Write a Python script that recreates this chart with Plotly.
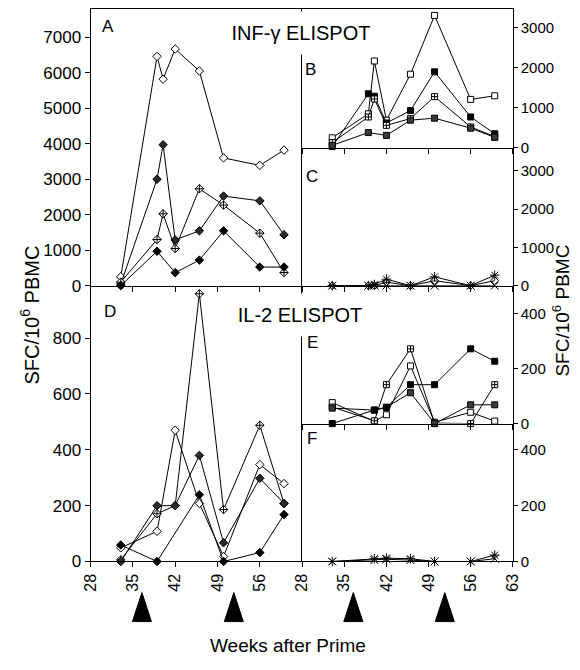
import plotly.graph_objects as go

# ---------------- data ----------------
weeks_ifn = [33, 39, 40, 42, 46, 50, 56, 60]
A_open = [250, 6460, 5820, 6670, 6050, 3600, 3390, 3820]
A_half = [50, 3000, 3970, 1290, 1545, 2525, 2390, 1435]
A_cross = [100, 1300, 2025, 1045, 2730, 2270, 1480, 370]
A_filled = [0, 970, None, 365, 720, 1545, 525, 525]

B_open = [250, 850, 2170, 690, 1840, 3310, 1210, 1300]
B_filled = [30, 1350, 1290, 620, 930, 1900, 770, 350]
B_cross = [130, 770, 1220, 560, 730, 1280, 520, 280]
B_half = [60, 380, None, 310, 690, 740, 490, 260]

C_ast = [0, 0, 30, 170, 0, 230, 0, 275]
C_circ = [0, 0, 0, 90, 0, 130, 0, 130]
C_x = [0, 0, 0, 0, 0, 0, 0, 0]

weeks_D = [33, 39, 42, 46, 50, 56, 60]
D_open = [49, 108, 470, 208, 18, 347, 279]
D_cross = [6, 171, 200, 959, 186, 488, 208]
D_half = [0, 200, 200, 380, 67, 298, 208]
D_filled = [59, 0, None, 239, 0, 32, 168]

weeks_E = [33, 40, 42, 46, 50, 56, 60]
E_filled = [0, 49, 59, 141, 141, 271, 226]
E_cross = [60, 10, 141, 271, 2, 0, 141]
E_open = [76, 8, 32, 209, 5, 41, 9]
E_half = [56, 49, 59, 112, 0, 68, 68]

F_ast = [0, 10, 12, 10, 0, 0, 23]
F_x = [0, 5, 8, 5, 0, 0, 10]

boost_weeks = [36.5, 51.7]

ticks_left = [28, 35, 42, 49, 56]
ticks_right = [28, 35, 42, 49, 56, 63]

W, H = 580, 670
FONT = "Liberation Sans, Arial, sans-serif"

def px(x):
    return x / W

def py(y):
    return 1 - y / H

fig = go.Figure()

def add(xs, ys, ax, symbol, fill, size):
    xa, ya = ax
    fig.add_trace(go.Scatter(
        x=xs, y=ys, xaxis=xa, yaxis=ya, mode="lines+markers",
        line=dict(color="black", width=1),
        marker=dict(symbol=symbol, color=fill, size=size,
                    line=dict(color="black", width=1)),
        connectgaps=True, cliponaxis=False, showlegend=False))

AX_A = ("x", "y")
AX_B = ("x2", "y2")
AX_C = ("x3", "y3")
AX_D = ("x4", "y4")
AX_E = ("x5", "y5")
AX_F = ("x6", "y6")

# panel A
add(weeks_ifn, A_open, AX_A, "diamond", "white", 6.5)
add(weeks_ifn, A_half, AX_A, "diamond", "#2a2a2a", 6.5)
add(weeks_ifn, A_cross, AX_A, "diamond-cross", "white", 6.5)
add(weeks_ifn, A_filled, AX_A, "diamond", "black", 6.5)
# panel B
add(weeks_ifn, B_open, AX_B, "square", "white", 6)
add(weeks_ifn, B_filled, AX_B, "square", "black", 6)
add(weeks_ifn, B_cross, AX_B, "square-cross", "white", 6)
add(weeks_ifn, B_half, AX_B, "square", "#3a3a3a", 6)
# panel C
add(weeks_ifn, C_circ, AX_C, "diamond-open", "black", 6)
add(weeks_ifn, C_x, AX_C, "x-thin-open", "black", 8)
add(weeks_ifn, C_ast, AX_C, "asterisk-open", "black", 8)
# panel D
add(weeks_D, D_open, AX_D, "diamond", "white", 6.5)
add(weeks_D, D_cross, AX_D, "diamond-cross", "white", 6.5)
add(weeks_D, D_half, AX_D, "diamond", "#2a2a2a", 6.5)
add(weeks_D, D_filled, AX_D, "diamond", "black", 6.5)
# panel E
add(weeks_E, E_open, AX_E, "square", "white", 6)
add(weeks_E, E_cross, AX_E, "square-cross", "white", 6)
add(weeks_E, E_half, AX_E, "square", "#3a3a3a", 6)
add(weeks_E, E_filled, AX_E, "square", "black", 6)
# panel F
add(weeks_E, F_x, AX_F, "x-thin-open", "black", 8)
add(weeks_E, F_ast, AX_F, "asterisk-open", "black", 8)

xl = [px(84), px(302)]
xr = [px(302), px(519)]

def xaxis(domain, anchor, tickvals, labels, mirror=False):
    return dict(domain=domain, anchor=anchor, range=[28, 63], tickvals=tickvals,
                showticklabels=labels, tickangle=-90,
                showline=True, linecolor="black", linewidth=1, mirror=mirror,
                ticks="outside", ticklen=5, tickwidth=1, tickcolor="black",
                showgrid=False, zeroline=False,
                tickfont=dict(size=16, color="black", family=FONT))

def yaxis(domain, anchor, rng, tickvals, side):
    return dict(domain=domain, anchor=anchor, range=rng, tickvals=tickvals,
                side=side, mirror=(side == "right"),
                showline=True, linecolor="black", linewidth=1,
                ticks="outside", ticklen=5 if side == "left" else 4,
                tickwidth=1, tickcolor="black",
                showgrid=False, zeroline=False,
                tickfont=dict(size=17 if side == "left" else 15, color="black", family=FONT))

layout = dict(
    width=W, height=H, margin=dict(l=0, r=0, t=0, b=0),
    plot_bgcolor="white", paper_bgcolor="white",
    font=dict(family=FONT, color="black"),
    xaxis=xaxis(xl, "y", ticks_left, False, mirror=True),
    xaxis2=xaxis(xr, "y2", ticks_right, False, mirror=True),
    xaxis3=xaxis(xr, "y3", ticks_right, False),
    xaxis4=xaxis(xl, "y4", ticks_left, True),
    xaxis5=xaxis(xr, "y5", ticks_right, False),
    xaxis6=xaxis(xr, "y6", ticks_right, True),
    yaxis=yaxis([py(290), py(9)], "x", [0, 7800], list(range(0, 7001, 1000)), "left"),
    yaxis2=yaxis([py(150), py(9)], "x2", [0, 3475], [0, 1000, 2000, 3000], "right"),
    yaxis3=yaxis([py(290), py(150)], "x3", [0, 3600], [0, 1000, 2000, 3000], "right"),
    yaxis4=yaxis([py(570), py(290)], "x4", [0, 988], [0, 200, 400, 600, 800], "left"),
    yaxis5=yaxis([py(430), py(290)], "x5", [0, 500], [0, 200, 400], "right"),
    yaxis6=yaxis([py(570), py(430)], "x6", [0, 494], [0, 200, 400], "right"),
)
fig.update_layout(**layout)

ann = []
ann.append(dict(text="INF-γ ELISPOT", x=px(301), y=py(33), xref="paper", yref="paper",
                showarrow=False, font=dict(size=20), bgcolor="white",
                width=150, height=40, xanchor="center", yanchor="middle"))
ann.append(dict(text="IL-2 ELISPOT", x=px(300), y=py(320), xref="paper", yref="paper",
                showarrow=False, font=dict(size=20), bgcolor="white",
                width=138, height=40, xanchor="center", yanchor="middle"))
for letter, (lx, ly) in {"A": (102, 27), "B": (311, 71), "C": (312, 179),
                         "D": (104, 316), "E": (313, 348), "F": (312, 445)}.items():
    ann.append(dict(text=letter, x=px(lx), y=py(ly), xref="paper", yref="paper",
                    showarrow=False, font=dict(size=17), xanchor="center", yanchor="middle"))
ann.append(dict(text="SFC/10<sup>6</sup> PBMC", x=px(21), y=py(320), xref="paper", yref="paper",
                showarrow=False, textangle=-90, font=dict(size=20),
                xanchor="center", yanchor="middle"))
ann.append(dict(text="SFC/10<sup>6</sup> PBMC", x=px(569), y=py(315), xref="paper", yref="paper",
                showarrow=False, textangle=-90, font=dict(size=19),
                xanchor="center", yanchor="middle"))
ann.append(dict(text="Weeks after Prime", x=px(287), y=py(655), xref="paper", yref="paper",
                showarrow=False, font=dict(size=19), xanchor="center", yanchor="middle"))
fig.update_layout(annotations=ann)

shapes = []
for xref in ["x4", "x6"]:
    for wk in boost_weeks:
        shapes.append(dict(type="path", xref=xref, yref="paper",
                           xsizemode="pixel", ysizemode="pixel",
                           xanchor=wk, yanchor=py(631),
                           path="M -9.5,0 L 9.5,0 L 0,29 Z",
                           fillcolor="black", line=dict(color="black", width=1)))
fig.update_layout(shapes=shapes)

fig.write_html("out.html")
